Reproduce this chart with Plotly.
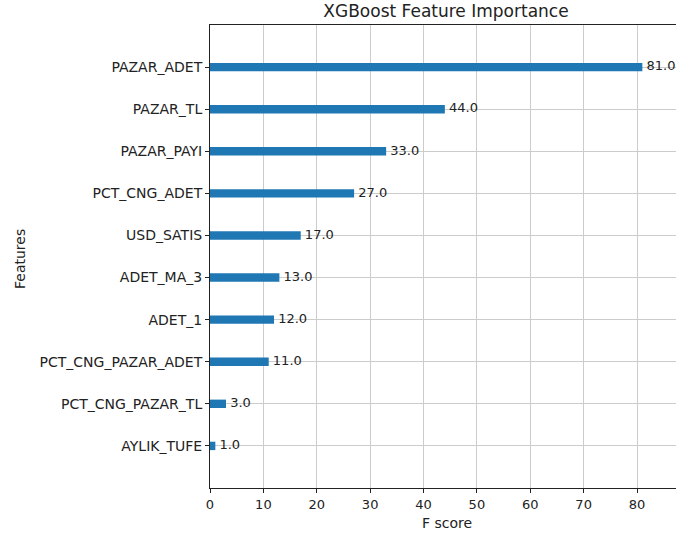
import plotly.graph_objects as go

features = ["AYLIK_TUFE", "PCT_CNG_PAZAR_TL", "PCT_CNG_PAZAR_ADET", "ADET_1", "ADET_MA_3",
            "USD_SATIS", "PCT_CNG_ADET", "PAZAR_PAYI", "PAZAR_TL", "PAZAR_ADET"]
scores = [1.0, 3.0, 11.0, 12.0, 13.0, 17.0, 27.0, 33.0, 44.0, 81.0]
x_ticks = [0, 10, 20, 30, 40, 50, 60, 70, 80]

W, H = 683, 536
L, T, B, R = 210, 25, 48, 0
font = "DejaVu Sans"
col = "#222222"
fig = go.Figure()
fig.add_trace(go.Bar(x=scores, y=features, orientation="h", width=0.2,
                     marker=dict(color="#1f77b4", line=dict(width=0)), hoverinfo="skip"))
fig.add_trace(go.Scatter(x=scores, y=features, mode="text", cliponaxis=False,
                         text=[f" {v:.1f}" for v in scores], textposition="middle right",
                         textfont=dict(family=font, size=13, color=col), hoverinfo="skip"))
fig.update_layout(
    width=W, height=H, margin=dict(l=L, r=R, t=T, b=B, autoexpand=False),
    paper_bgcolor="white", plot_bgcolor="white", showlegend=False,
    title=dict(text="XGBoost Feature Importance", x=446 / W, xref="container", xanchor="center",
               y=1 - 11 / H, yref="container", yanchor="middle",
               font=dict(family=font, size=17, color=col)),
    font=dict(family=font, size=14, color=col),
)
fig.update_xaxes(range=[0, (W - L) / (427.0 / 80)], tickvals=x_ticks, ticks="outside", ticklen=4,
                 tickcolor=col, showline=True, linecolor=col, linewidth=1, mirror=True,
                 showgrid=True, gridcolor="#cccccc", gridwidth=1, zeroline=False, automargin=False,
                 tickfont=dict(family=font, size=13, color=col))
fig.update_yaxes(type="category", categoryorder="array", categoryarray=features, range=[-1, 10],
                 ticks="outside", ticklen=4, tickcolor=col, showline=True, linecolor=col,
                 linewidth=1, showgrid=True, gridcolor="#cccccc", gridwidth=1, zeroline=False,
                 automargin=False, tickfont=dict(family=font, size=14, color=col))
fig.add_annotation(text="F score", xref="paper", yref="paper", x=(447 - L) / (W - L), y=-(523 - (H - B)) / (H - T - B),
                   xanchor="center", yanchor="middle", showarrow=False,
                   font=dict(family=font, size=14, color=col))
fig.add_annotation(text="Features", xref="paper", yref="paper", x=-(L - 20) / (W - L), y=(H - B - 259) / (H - T - B),
                   xanchor="center", yanchor="middle", showarrow=False, textangle=-90,
                   font=dict(family=font, size=14, color=col))
fig.write_html("out.html", config={"displayModeBar": False},
               post_script="document.body.style.margin='0px';document.body.style.overflow='hidden';")
